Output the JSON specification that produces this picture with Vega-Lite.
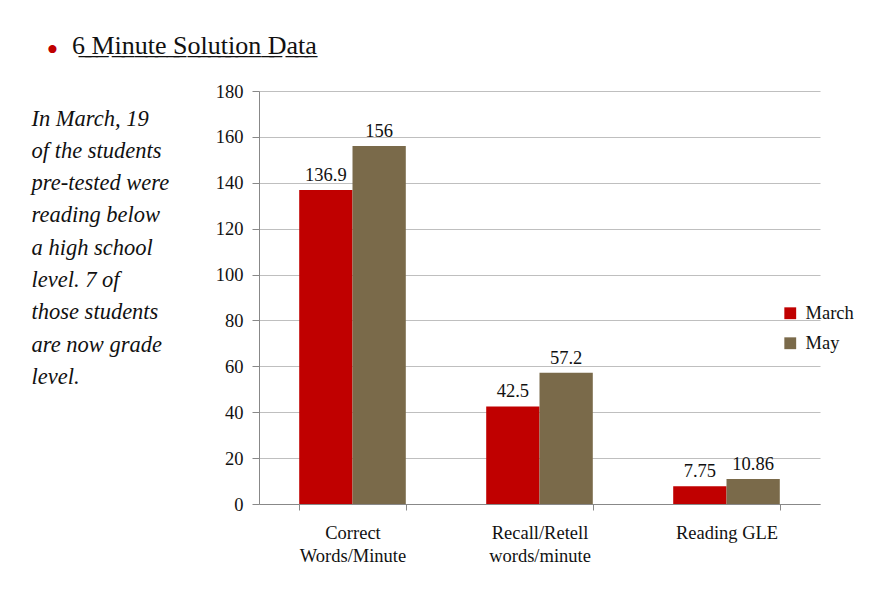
{
  "$schema": "https://vega.github.io/schema/vega-lite/v6.json",
  "width": 561,
  "height": 413,
  "autosize": {"type": "none"},
  "padding": {"left": 259, "top": 91, "right": 68, "bottom": 88},
  "background": "white",
  "title": {
    "text": "6̲ ̲M̲i̲n̲u̲t̲e̲ ̲S̲o̲l̲u̲t̲i̲o̲n̲ ̲D̲a̲t̲a̲",
    "anchor": "start",
    "frame": "group",
    "dx": -187,
    "offset": -26,
    "font": "Liberation Serif",
    "fontSize": 26,
    "fontWeight": "normal",
    "color": "#111111"
  },
  "data": {
    "values": [
      {"category": "Correct Words/Minute", "series": "March", "value": 136.9},
      {"category": "Correct Words/Minute", "series": "May", "value": 156},
      {"category": "Recall/Retell words/minute", "series": "March", "value": 42.5},
      {"category": "Recall/Retell words/minute", "series": "May", "value": 57.2},
      {"category": "Reading GLE", "series": "March", "value": 7.75},
      {"category": "Reading GLE", "series": "May", "value": 10.86}
    ]
  },
  "encoding": {
    "x": {
      "field": "category",
      "type": "nominal",
      "sort": ["Correct Words/Minute", "Recall/Retell words/minute", "Reading GLE"],
      "scale": {"paddingInner": 0.43, "paddingOuter": 0.215},
      "axis": {
        "title": "•",
        "titleColor": "#C00000",
        "titleFont": "Liberation Serif",
        "titleFontSize": 34,
        "titleFontWeight": "normal",
        "titleAnchor": null,
        "titleAlign": "center",
        "titleBaseline": "alphabetic",
        "titleX": -207,
        "titleY": -444,
        "labelAngle": 0,
        "labelExpr": "!datum.value ? '' : (datum.value == 'Reading GLE' ? datum.value : split(datum.value, ' '))",
        "labelFont": "Liberation Serif",
        "labelFontSize": 18.5,
        "labelColor": "#111111",
        "labelLineHeight": 23,
        "labelPadding": 13,
        "tickBand": "extent",
        "ticks": true,
        "tickSize": 6,
        "tickColor": "#888888",
        "domainColor": "#888888",
        "grid": false
      }
    },
    "xOffset": {"field": "series", "type": "nominal", "sort": ["March", "May"]},
    "y": {
      "field": "value",
      "type": "quantitative",
      "scale": {"domain": [0, 180], "nice": false},
      "axis": {
        "values": [0, 20, 40, 60, 80, 100, 120, 140, 160, 180],
        "title": ["In March, 19", "of the students", "pre-tested were", "reading below", "a high school", "level.  7 of", "those students", "are now grade", "level."],
        "titleFont": "Liberation Serif",
        "titleFontStyle": "italic",
        "titleFontWeight": "normal",
        "titleFontSize": 22.5,
        "titleColor": "#111111",
        "titleAngle": 0,
        "titleAlign": "left",
        "titleBaseline": "alphabetic",
        "titleAnchor": null,
        "titleLineHeight": 32.3,
        "titleX": -228,
        "titleY": 34,
        "labelFont": "Liberation Serif",
        "labelFontSize": 18.5,
        "labelColor": "#111111",
        "labelPadding": 9,
        "tickSize": 7,
        "tickColor": "#888888",
        "domainColor": "#888888",
        "gridColor": "#BFBFBF",
        "grid": true
      }
    }
  },
  "layer": [
    {
      "mark": {"type": "bar"},
      "encoding": {
        "color": {
          "field": "series",
          "type": "nominal",
          "sort": ["March", "May"],
          "scale": {"domain": ["March", "May"], "range": ["#C00000", "#7A6A4A"]},
          "legend": {
            "title": null,
            "orient": "none",
            "legendX": 522,
            "legendY": 213,
            "symbolType": "square",
            "symbolSize": 140,
            "symbolStrokeWidth": 0,
            "labelFont": "Liberation Serif",
            "labelFontSize": 18.5,
            "labelColor": "#111111",
            "rowPadding": 11,
            "labelOffset": 6
          }
        }
      }
    },
    {
      "mark": {"type": "text", "dy": -5, "font": "Liberation Serif", "fontSize": 18.5, "color": "#111111", "baseline": "bottom"},
      "encoding": {
        "text": {"field": "value", "type": "quantitative"}
      }
    }
  ],
  "config": {
    "view": {"stroke": null}
  }
}
